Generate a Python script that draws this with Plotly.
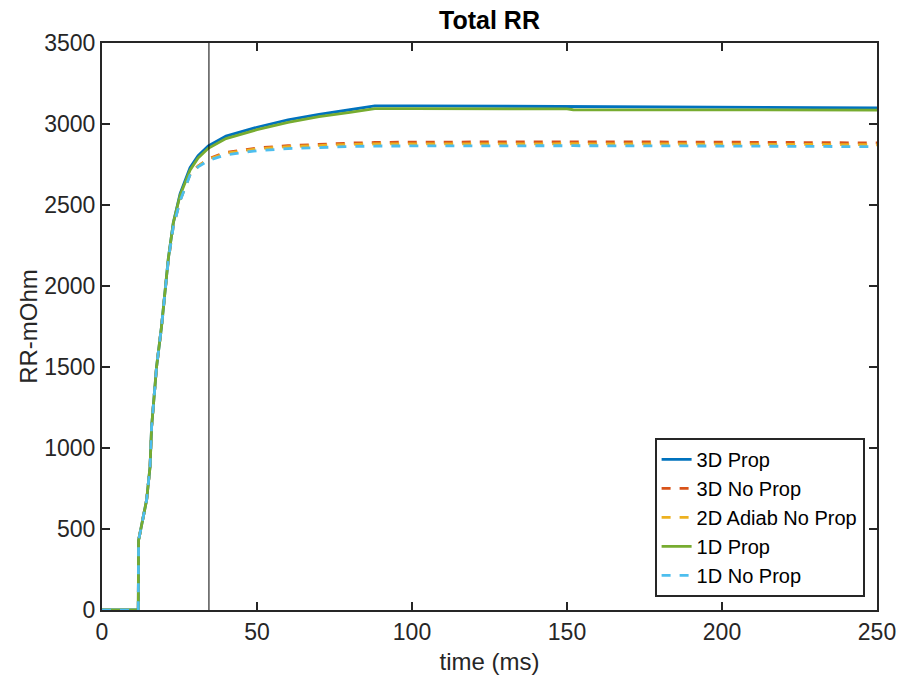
import plotly.graph_objects as go

t = [0, 11.7, 11.8, 14.4, 15.5, 16, 17.6, 19.2, 21.4, 23, 25.2, 28.4, 31, 34.3, 40, 50, 60, 70, 80, 88, 100, 150, 152, 200, 250]
rr_3d_prop = [0, 0, 430, 680, 885, 1130, 1500, 1750, 2170, 2390, 2570, 2730, 2805, 2865, 2925, 2980, 3025, 3060, 3088, 3112, 3112, 3108, 3107, 3104, 3100]
rr_3d_noprop = [0, 0, 430, 680, 885, 1130, 1500, 1750, 2160, 2370, 2530, 2690, 2740, 2785, 2825, 2852, 2866, 2875, 2882, 2886, 2888, 2890, 2890, 2888, 2883]
rr_2d_adiab = [0, 0, 430, 680, 885, 1130, 1500, 1750, 2160, 2370, 2530, 2690, 2740, 2782, 2820, 2846, 2860, 2868, 2874, 2877, 2878, 2878, 2878, 2876, 2872]
rr_1d_prop = [0, 0, 430, 680, 885, 1130, 1500, 1750, 2170, 2390, 2560, 2715, 2790, 2850, 2910, 2965, 3010, 3045, 3072, 3095, 3095, 3093, 3088, 3087, 3086]
rr_1d_noprop = [0, 0, 430, 680, 885, 1130, 1500, 1750, 2160, 2365, 2525, 2685, 2735, 2775, 2810, 2835, 2848, 2856, 2861, 2864, 2865, 2866, 2866, 2864, 2860]
marker_time = 34.5

series = [
    ("3D Prop", rr_3d_prop, "#0072BD", "solid"),
    ("3D No Prop", rr_3d_noprop, "#D95319", "dash"),
    ("2D Adiab No Prop", rr_2d_adiab, "#EDB120", "dash"),
    ("1D Prop", rr_1d_prop, "#77AC30", "solid"),
    ("1D No Prop", rr_1d_noprop, "#4DBEEE", "dash"),
]

FONT = "Liberation Sans, Arial, sans-serif"
fig = go.Figure()
for name, vals, col, dash in series:
    fig.add_trace(go.Scatter(x=t, y=vals, mode="lines", name=name,
                             line=dict(color=col, width=2.8, dash=dash)))

fig.add_shape(type="line", x0=marker_time, x1=marker_time, y0=0, y1=1, yref="paper",
              line=dict(color="black", width=1))

axis_common = dict(showline=True, linecolor="#262626", linewidth=2, mirror="ticks",
                   ticks="inside", ticklen=8, tickwidth=2, tickcolor="#262626",
                   showgrid=False, zeroline=False, automargin=False,
                   tickfont=dict(family=FONT, size=23, color="#262626"))

fig.update_layout(
    width=898, height=683,
    margin=dict(l=102, r=21, t=43, b=73),
    plot_bgcolor="white", paper_bgcolor="white",
    title=dict(text="<b>Total RR</b>", x=0.5, xref="paper", y=0.97, yref="container",
               yanchor="middle", font=dict(family=FONT, size=25, color="black")),
    xaxis=dict(range=[0, 250], tick0=0, dtick=50,
               title=dict(text="time (ms)", font=dict(family=FONT, size=24, color="#262626"), standoff=10),
               **axis_common),
    yaxis=dict(range=[0, 3500], tick0=0, dtick=500,
               title=dict(text="RR-mOhm", font=dict(family=FONT, size=24, color="#262626"), standoff=0),
               **axis_common),
    legend=dict(x=0.984, y=0.023, xanchor="right", yanchor="bottom",
                bgcolor="white", bordercolor="#262626", borderwidth=2,
                font=dict(family=FONT, size=20, color="black"),
                tracegroupgap=0),
    showlegend=True,
)

fig.write_html("out.html")
